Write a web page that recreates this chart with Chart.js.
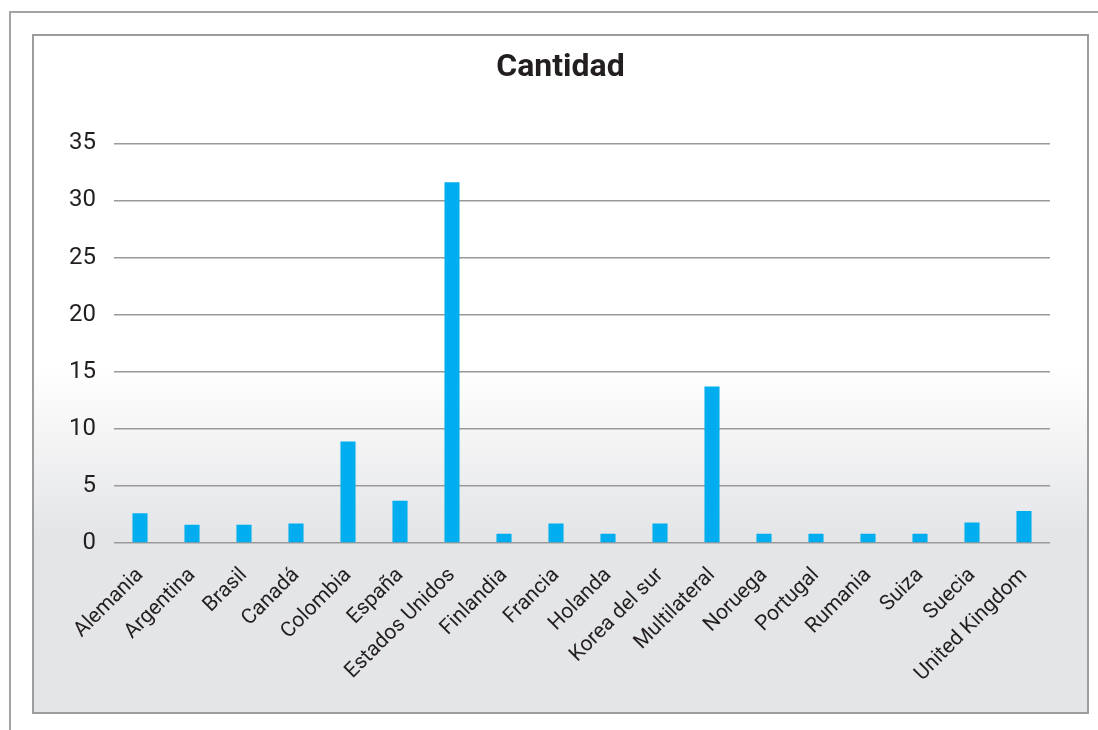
<!DOCTYPE html>
<html lang="es">
<head>
<meta charset="UTF-8">
<title>Cantidad</title>
<script src="https://cdn.jsdelivr.net/npm/chart.js"></script>
<style>
    html, body { margin: 0; padding: 0; background: #fff; }
    body { width: 1098px; height: 730px; position: relative; overflow: hidden; font-family: Roboto, sans-serif; }
    .outer {
        position: absolute; left: 9px; top: 11px; width: 1100px; height: 730px;
        border-top: 2px solid #a4a4a6; border-left: 2px solid #a4a4a6;
    }
    .box {
        position: absolute; left: 32px; top: 34px; width: 1057px; height: 680px;
        box-sizing: border-box; border: 2px solid #9d9d9f;
        background: linear-gradient(to bottom, #ffffff 0px, #ffffff 332px, #e4e5e7 500px, #e4e5e7 100%);
    }
    .box canvas { display: block; }
</style>
</head>
<body>
<div class="outer"></div>
<div class="box">
    <canvas id="chaCantidad" width="1053" height="676"></canvas>
</div>

<script>
    // datos
    const paises = ['Alemania', 'Argentina', 'Brasil', 'Canadá', 'Colombia', 'España', 'Estados Unidos',
        'Finlandia', 'Francia', 'Holanda', 'Korea del sur', 'Multilateral', 'Noruega', 'Portugal',
        'Rumania', 'Suiza', 'Suecia', 'United Kingdom'];
    const cantidad = [2.6, 1.6, 1.6, 1.7, 8.9, 3.7, 31.6, 0.8, 1.7, 0.8, 1.7, 13.7, 0.8, 0.8, 0.8, 0.8, 1.8, 2.8];
    const yTicks = [0, 5, 10, 15, 20, 25, 30, 35];

    const textColor = '#231f20';
    const gridColor = '#9a9a9a';

    new Chart(document.getElementById('chaCantidad').getContext('2d'), {
        type: 'bar',
        data: {
            labels: paises,
            datasets: [{
                label: 'Cantidad',
                data: cantidad,
                backgroundColor: '#00aeef',
                borderWidth: 0,
                barPercentage: 0.29,
                categoryPercentage: 1
            }]
        },
        options: {
            responsive: false,
            animation: false,
            plugins: {
                legend: { display: false },
                tooltip: { enabled: false },
                title: {
                    display: true,
                    text: 'Cantidad',
                    color: textColor,
                    font: { family: 'Roboto', size: 32, weight: 'bold', lineHeight: 1.2 },
                    padding: { top: 13, bottom: 56 }
                }
            },
            scales: {
                x: {
                    grid: { display: false, drawTicks: false },
                    border: { display: false },
                    ticks: {
                        color: textColor,
                        font: { family: 'Roboto', size: 21 },
                        minRotation: 45,
                        maxRotation: 45,
                        autoSkip: false,
                        padding: 20
                    },
                    afterFit: function(scale) { scale.height = 169; }
                },
                y: {
                    min: 0,
                    max: yTicks[yTicks.length - 1],
                    afterBuildTicks: function(scale) {
                        scale.ticks = yTicks.map(v => ({ value: v }));
                    },
                    grid: { color: gridColor, lineWidth: 1.5, drawTicks: false },
                    border: { display: false },
                    ticks: {
                        color: textColor,
                        font: { family: 'Roboto', size: 24 },
                        padding: 18
                    },
                    afterFit: function(scale) { scale.width = 80; }
                },
                // eje vacio a la derecha, solo para dejar el margen sin mover el titulo
                margen: {
                    position: 'right',
                    grid: { display: false, drawTicks: false },
                    border: { display: false },
                    ticks: { display: false },
                    afterFit: function(scale) { scale.width = 37; }
                }
            }
        }
    });
</script>
</body>
</html>
